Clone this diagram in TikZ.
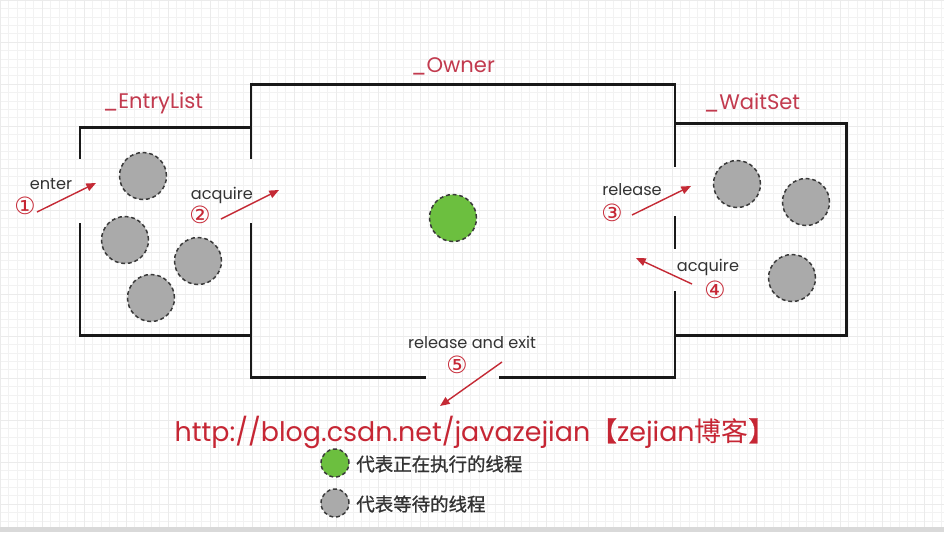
\documentclass[tikz,border=0pt]{standalone}
\usepackage{fontspec}
\setmainfont{Poppins}
\newfontfamily\cjk{Noto Sans CJK SC}
\newfontfamily\cjkb[FakeBold=1]{Noto Sans CJK SC}
\newfontfamily\sym{DejaVu Sans}
\usetikzlibrary{arrows.meta}
\definecolor{lblred}{HTML}{C23A4E}
\definecolor{urlred}{HTML}{C62634}
\definecolor{arrred}{HTML}{C42A35}
\definecolor{waitgray}{HTML}{AAAAAA}
\definecolor{rungreen}{HTML}{6CBF3F}
\definecolor{dashc}{HTML}{3A3A3A}
\definecolor{txtc}{HTML}{333333}
\tikzset{
  wall/.style={line width=1.7pt, black!90, line cap=rect},
  thr/.style={circle, draw=dashc, dash pattern=on 2.2pt off 1.6pt, line width=0.85pt, minimum size=0.94cm, inner sep=0pt},
  waitthr/.style={thr, fill=waitgray},
  runthr/.style={thr, fill=rungreen},
  legthr/.style={thr, minimum size=0.56cm},
  boxlbl/.style={text=lblred, font=\fontsize{12}{12}\selectfont, inner sep=0pt},
  steptxt/.style={text=txtc, font=\fontsize{9.2}{9.2}\selectfont, inner sep=0pt},
  stepnum/.style={text=urlred, font=\sym\fontsize{13.5}{13.5}\selectfont, inner sep=0pt},
  flow/.style={draw=arrred, line width=0.8pt, -{Triangle[length=5.5pt, width=4.5pt]}},
  legtxt/.style={text=txtc, font=\cjkb\fontsize{10.5}{10.5}\selectfont, inner sep=0pt, anchor=west},
}
\begin{document}
\begin{tikzpicture}[x=0.02cm, y=-0.02cm]
\useasboundingbox (0,0) rectangle (944,532);
\fill[white] (0,0) rectangle (944,532);
% faint grid
\foreach \g in {0,8.4,...,944} \draw[black!5, line width=0.2pt] (\g,0) -- (\g,527);
\foreach \g in {0,8.4,...,527} \draw[black!5, line width=0.2pt] (0,\g) -- (944,\g);
\foreach \g in {0,42,...,944} \draw[black!8, line width=0.3pt] (\g,0) -- (\g,527);
\foreach \g in {0,42,...,527} \draw[black!8, line width=0.3pt] (0,\g) -- (944,\g);
\fill[black!15] (0,527) rectangle (944,532);

% walls
\draw[wall] (80,157) -- (80,127) -- (251,127);
\draw[wall] (80,224) -- (80,335) -- (251,335);
\draw[wall] (251,157) -- (251,84) -- (675,84) -- (675,165);
\draw[wall] (251,224) -- (251,377) -- (425,377);
\draw[wall] (500,377) -- (675,377) -- (675,292);
\draw[wall] (675,217) -- (675,247);
\draw[wall] (675,123) -- (846,123) -- (846,335) -- (675,335);

% box labels
\node[boxlbl] (lentry) at (153,103) {\_EntryList};
\node[boxlbl] (lowner) at (453,66) {\_Owner};
\node[boxlbl] (lwait) at (752,103) {\_WaitSet};

% threads
\node[waitthr] (e1) at (143,176) {};
\node[waitthr] (e2) at (125,240) {};
\node[waitthr] (e3) at (198,261) {};
\node[waitthr] (e4) at (151,298) {};
\node[runthr] (o1) at (453,218) {};
\node[waitthr] (w1) at (737,184) {};
\node[waitthr] (w2) at (806,202) {};
\node[waitthr] (w3) at (792,278) {};

% step 1
\node[steptxt] (t1) at (51,184) {enter};
\node[stepnum] (n1) at (25,206) {①};
\coordinate (a1s) at (37,212);
\coordinate (a1e) at (96,183);
\draw[flow] (a1s) -- (a1e);
% step 2
\node[steptxt] (t2) at (222,195) {acquire};
\node[stepnum] (n2) at (200,215) {②};
\coordinate (a2s) at (221,219);
\coordinate (a2e) at (279,190);
\draw[flow] (a2s) -- (a2e);
% step 3
\node[steptxt] (t3) at (632,190) {release};
\node[stepnum] (n3) at (612,213) {③};
\coordinate (a3s) at (632,215);
\coordinate (a3e) at (691,186);
\draw[flow] (a3s) -- (a3e);
% step 4
\node[steptxt] (t4) at (708,267) {acquire};
\node[stepnum] (n4) at (715,290) {④};
\coordinate (a4s) at (692,284);
\coordinate (a4e) at (636,258);
\draw[flow] (a4s) -- (a4e);
% step 5
\node[steptxt] (t5) at (472,342) {release and exit};
\node[stepnum] (n5) at (457,365) {⑤};
\coordinate (a5s) at (502,362);
\coordinate (a5e) at (440,406);
\draw[flow] (a5s) -- (a5e);

% url
\node[text=urlred, font=\fontsize{15.3}{15.3}\selectfont, inner sep=0pt] (url) at (475,432) {http://blog.csdn.net/javazejian{\cjkb 【}zejian{\cjk 博客}{\cjkb 】}};

% legend
\node[legthr, fill=rungreen] (lg1) at (335,463) {};
\node[legtxt] (lt1) at (356,464) {代表正在执行的线程};
\node[legthr, fill=waitgray] (lg2) at (335,503) {};
\node[legtxt] (lt2) at (356,504) {代表等待的线程};
\end{tikzpicture}
\end{document}
